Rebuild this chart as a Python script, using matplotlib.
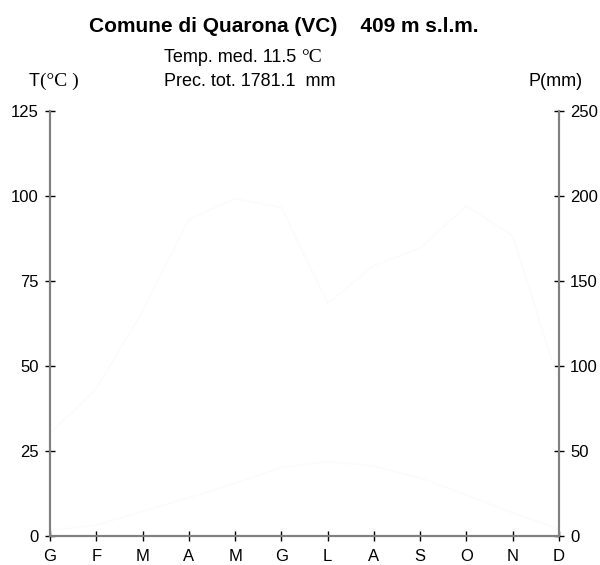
import matplotlib
matplotlib.use("Agg")
import matplotlib.pyplot as plt

plt.rcParams["font.family"] = ["Liberation Sans", "DejaVu Sans"]

# ---- Dati ----
mesi = ["G", "F", "M", "A", "M", "G", "L", "A", "S", "O", "N", "D"]
temp = [1.5, 3.1, 7.2, 11.2, 15.4, 20.0, 21.8, 20.5, 17.0, 12.0, 6.7, 2.0]
prec = [60.2, 86.5, 131.8, 186.0, 198.3, 193.0, 136.7, 158.9, 169.2, 194.1, 176.4, 90.0]
t_ticks = [0, 25, 50, 75, 100, 125]
p_ticks = [0, 50, 100, 150, 200, 250]

GRIGIO = "#808080"
LINEA = "#fbfbfb"   # linee quasi invisibili nell'originale

x = list(range(len(mesi)))

fig = plt.figure(figsize=(6.0, 5.65), dpi=100)
ax = fig.add_axes([50 / 600, 1 - 535.7 / 565, 509 / 600, 425 / 565])
ax2 = ax.twinx()

ax.plot(x, temp, color=LINEA, lw=1.0)
ax2.plot(x, prec, color=LINEA, lw=1.0)

ax.set_xlim(0, len(mesi) - 1)
ax.set_ylim(t_ticks[0], t_ticks[-1])
ax2.set_ylim(p_ticks[0], p_ticks[-1])

ax.set_xticks(x)
ax.set_xticklabels(mesi)
ax.set_yticks(t_ticks)
ax2.set_yticks(p_ticks)

for a in (ax, ax2):
    a.spines["top"].set_visible(False)
    for s in ("left", "right", "bottom"):
        a.spines[s].set_color(GRIGIO)
        a.spines[s].set_linewidth(1.5)
    a.tick_params(direction="inout", length=7, width=1, color="black",
                  labelsize=12, pad=4.5, labelcolor="black")
ax.tick_params(axis="x", pad=6)

# ---- Testi ----
fig.text(284 / 600, 1 - 26 / 565, "Comune di Quarona (VC)    409 m s.l.m.",
         ha="center", va="center", fontsize=15, fontweight="bold")

t_med = sum(temp) / len(temp)
p_tot = sum(prec)
t1 = fig.text(164 / 600, 1 - 58 / 565, f"Temp. med. {t_med:.1f} ",
              ha="left", va="center", fontsize=13)
ax.annotate("°C", xy=(1, 0), xycoords=t1, va="bottom", ha="left",
            family="Liberation Serif", fontsize=14, annotation_clip=False)
fig.text(164 / 600, 1 - 82 / 565, f"Prec. tot. {p_tot:.1f}  mm",
         ha="left", va="center", fontsize=13)

tl = fig.text(29 / 600, 1 - 82 / 565, "T", ha="left", va="center", fontsize=13)
ax.annotate("(°C )", xy=(1, 0), xycoords=tl, va="bottom", ha="left",
            family="Liberation Serif", fontsize=14, annotation_clip=False)
fig.text(583 / 600, 1 - 82 / 565, "P(mm)", ha="right", va="center", fontsize=13)

fig.savefig("out.png", dpi=100, facecolor="white")
